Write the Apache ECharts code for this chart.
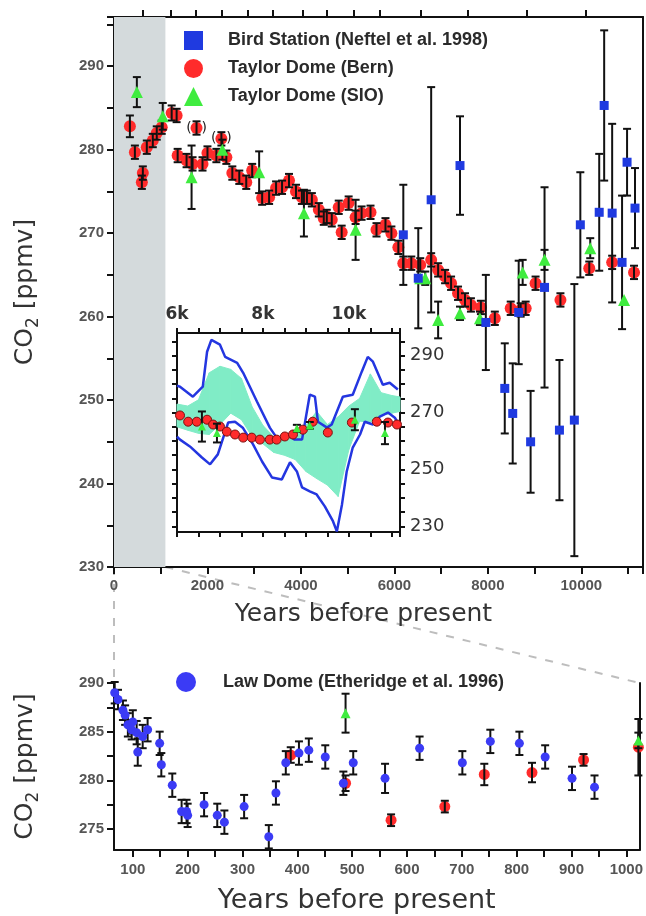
<!DOCTYPE html>
<html><head><meta charset="utf-8">
<script src="https://cdn.jsdelivr.net/npm/echarts@6/dist/echarts.min.js"></script>
<style>html,body{margin:0;padding:0;background:#fff}#c{width:646px;height:916px}</style>
</head><body><div id="c"></div>
<script>
// ---------- DATA ----------
// Main panel: [years BP, CO2 ppmv, error]
const bernMain = [
 [340,282.8,1.3],[447,279.7,0.8],[596,276.1,0.8],[617,277.2,0.8],[702,280.3,0.8],[830,281.1,0.8],
 [915,282.0,0.8],[1021,282.7,0.8],[1234,284.4,0.9],[1340,284.1,0.8],[1362,279.3,0.8],[1553,278.7,0.8],
 [1681,278.3,0.8],[1894,278.3,0.8],[2000,279.6,0.8],[2191,279.3,0.8],[2404,279.1,0.8],[2532,277.2,0.8],
 [2681,276.7,0.8],[2830,276.1,0.8],[2957,277.5,0.8],[3170,274.2,0.8],[3319,274.3,0.8],[3468,275.4,0.8],
 [3596,275.5,0.8],[3745,276.3,0.8],[3894,275.0,0.8],[4021,274.3,0.8],[4128,274.3,0.8],[4234,274.0,0.8],
 [4383,272.8,0.8],[4489,271.8,0.8],[4553,272.0,0.8],[4660,271.6,0.8],[4809,273.1,0.8],[4872,270.1,0.8],
 [5021,273.6,0.8],[5170,271.9,0.8],[5298,272.4,0.8],[5489,272.5,0.8],[5617,270.4,0.8],[5809,271.0,0.8],
 [5936,270.0,0.8],[6085,268.3,0.8],[6191,266.4,0.8],[6362,266.4,0.8],[6553,266.2,0.8],[6787,266.8,0.8],
 [6936,265.6,0.8],[7085,264.8,0.8],[7213,264.0,0.8],[7362,262.8,0.8],[7511,262.0,0.8],[7638,261.4,0.8],
 [7851,261.1,0.8],[8149,259.8,0.8],[8489,261.0,0.8],[8702,260.8,0.8],[8809,261.0,0.8],[9021,264.0,0.8],
 [9553,262.0,0.8],[10170,265.8,0.8],[10660,266.5,0.8],[11128,265.3,0.8]
];
const bernBracket = [[1766,282.6,0.8],[2298,281.3,0.8]];
const sioMain = [
 [489,286.9,1.8],[1043,284.0,1.6],[1660,276.7,3.8],[2319,280.0,1.2],[3106,277.3,2.5],[4064,272.4,2.8],
 [5170,270.4,3.6],[6553,264.6,0],[6660,264.6,0.8],[6936,259.6,2.2],[7404,260.4,0.8],[7830,259.8,0.8],
 [8745,265.3,1.5],[9213,266.8,1.2],[10191,268.2,1.2],[10915,262.0,0]
];
const birdMain = [
 [6191,269.8,6.0],[6511,264.6,6.0],[6787,274.0,13.5],[7404,278.1,5.9],[7957,259.3,5.7],[8362,251.4,5.4],
 [8532,248.4,6.0],[8660,260.5,6.2],[8915,245.0,6.1],[9213,263.5,12.0],[9532,246.4,8.4],[9851,247.6,16.3],
 [9979,271.0,6.3],[10383,272.5,7.0],[10489,285.3,9.0],[10660,272.4,10.7],[10872,266.5,8.0],
 [10979,278.5,4.0],[11149,273.0,4.8]
];
const shadeRange = [0, 1100];
const topTicks = [623,1213,1760,2313,2857,3404,4043,4560,5128,5681,6568,7560,8836,10091];

// Inset panel
const insetBern = [
 [6070,269.0],[6260,266.8],[6460,266.8],[6700,267.5],[6840,265.8],[7000,265.1],[7160,263.3],[7350,262.3],
 [7540,261.2],[7740,261.2],[7930,260.5],[8160,260.5],[8320,260.5],[8510,261.6],[8700,262.3],[8930,264.0],
 [9160,266.8],[9510,263.0],[10070,266.5],[10650,266.8],[10910,266.5],[11120,265.8]
];
const insetSio = [[6580,265.1,5.3],[6930,262.8,3.3],[8790,264.5,1.2],[9090,265.5,1.2],[10140,267.5,3.7],[10840,262.8,3.9]];
const envUpper = [
 [6000,279.5],[6070,279.1],[6370,275.6],[6600,279.1],[6700,291.4],[6800,295.6],[7000,293.9],[7120,289.6],
 [7400,287.5],[7540,284.0],[7860,273.9],[8160,264.7],[8350,260.5],[8560,262.3],[8740,260.5],[8910,260.5],
 [9090,276.3],[9210,275.6],[9280,266.8],[9490,264.7],[9600,265.8],[9860,275.6],[10090,276.3],[10300,284.4],
 [10440,289.6],[10560,287.9],[10790,279.8],[10950,280.5],[11140,278.1]
];
const envLower = [
 [6000,261.5],[6070,260.5],[6300,258.1],[6580,254.2],[6770,251.8],[6950,255.3],[7190,266.5],[7350,266.8],
 [7530,264.7],[7770,258.8],[7980,252.8],[8210,247.2],[8440,246.5],[8630,252.5],[8790,249.3],[8910,243.7],
 [9090,242.3],[9250,241.2],[9440,237.0],[9630,231.8],[9720,228.2],[9840,237.7],[9950,249.3],[10090,257.7],
 [10260,262.3],[10370,266.8],[10560,265.8],[10720,268.6],[10910,270.0],[11070,268.2],[11140,266.5]
];
const bandX    = [6000,6250,6500,6750,7000,7250,7500,7750,8000,8250,8500,8750,9000,9250,9500,9750,10000,10250,10500,10750,11000,11190];
const bandHigh = [273,272.3,274.5,284,286.3,285.2,282,272,265.5,261.5,260.8,262.3,265.5,270.4,265.8,268.5,272.3,275,283.6,277,276,275.5];
const bandLow  = [265,263.8,262.7,262.3,265.8,269.8,267.5,261.5,259,256,255,253.5,249.3,246.8,244.5,240.5,257,267,266.7,269,269.8,270.4];
const insetXLabels = [6000,8000,10000];
const insetYTicks = [230,235,240,245,250,255,260,265,270,275,280,285,290,295];
const insetYLabels = [230,250,270,290];

// Lower panel
const lawDome = [
 [67,289.0,1.1],[73,288.3,1.0],[82,287.2,1.0],[86,286.7,1.0],[91,285.7,1.2],[98,285.2,1.0],[100,286.0,1.2],
 [107,284.9,1.2],[109,282.9,1.4],[118,284.5,1.2],[127,285.2,1.2],[149,283.8,1.2],[152,281.6,1.2],
 [172,279.5,1.2],[189,276.8,1.2],[198,276.8,1.2],[200,276.4,1.2],[230,277.5,1.2],[254,276.4,1.2],
 [267,275.7,1.2],[303,277.3,1.2],[348,274.2,1.2],[361,278.7,1.2],[379,281.8,1.2],[403,282.8,1.2],
 [421,283.1,1.2],[451,282.4,1.2],[484,279.7,1.2],[502,281.8,1.2],[560,280.2,1.5],[623,283.3,1.2],
 [701,281.8,1.2],[752,284.0,1.2],[805,283.8,1.2],[852,282.4,1.2],[901,280.2,1.2],[942,279.3,1.2]
];
const bernLow = [[388,282.6,0.8],[488,279.7,0.8],[571,275.9,0.6],[669,277.3,0.6],[741,280.6,1.1],[828,280.8,1.0],[922,282.1,0.6],[1022,283.4,2.9]];
const sioLow = [[488,286.9,2.0],[1022,284.1,0.8]];
const lowXTicks = [100,150,200,250,300,350,400,450,500,550,600,650,700,750,800,850,900,950,1000];
const lowXLabels = [100,200,300,400,500,600,700,800,900,1000];
const lowYTicks = [275,277.5,280,282.5,285,287.5,290];
const lowYLabels = [275,280,285,290];

// ---------- STYLE ----------
const AX = '#111';
const RED = '#ff2b2b', GREEN = '#3fec3f', BLUE = '#1f3ae0', LAW = '#3b3bf5', MINT = '#80ecc6';
const tickFont = {fontFamily:'Liberation Sans', fontWeight:'bold', fontSize:15, color:'#555'};
const legendFont = {fontFamily:'Liberation Sans', fontWeight:'bold', fontSize:18, color:'#2a2a2a'};
const titleStyle = (fs) => ({fontFamily:'DejaVu Sans', fontSize:fs, color:'#333'});
const coName = '{a|CO}{b|2}{a| [ppmv]}';
const coRich = {rich:{
  a:{fontFamily:'DejaVu Sans', fontSize:25, color:'#333', lineHeight:34, verticalAlign:'middle'},
  b:{fontFamily:'DejaVu Sans', fontSize:17, color:'#333', lineHeight:17, verticalAlign:'bottom'}
}};

function axisBase(extra){
  return Object.assign({
    type:'value', scale:true,
    axisLine:{show:true, onZero:false, lineStyle:{color:AX, width:2}},
    axisTick:{show:false}, axisLabel:{show:false}, splitLine:{show:false}
  }, extra);
}
function ticks(len, extra){ return Object.assign({show:true, inside:false, length:len, lineStyle:{color:AX, width:2}}, extra||{}); }

function errRender(params, api){
  const e = api.value(2);
  if (!e) return null;
  const x = api.value(0), y = api.value(1);
  const t = api.coord([x, y + e]), b = api.coord([x, y - e]);
  const w = 4, st = {stroke:'#111', lineWidth:2};
  return {type:'group', children:[
    {type:'line', shape:{x1:t[0], y1:t[1], x2:b[0], y2:b[1]}, style:st},
    {type:'line', shape:{x1:t[0]-w, y1:t[1], x2:t[0]+w, y2:t[1]}, style:st},
    {type:'line', shape:{x1:b[0]-w, y1:b[1], x2:b[0]+w, y2:b[1]}, style:st}
  ]};
}
function errSeries(data, xi, yi, z){
  return {type:'custom', name:'err', xAxisIndex:xi, yAxisIndex:yi, data:data, renderItem:errRender,
          encode:{x:0, y:1}, z:z, silent:true};
}
// band segment i -> i+1 drawn as a filled quadrilateral between low and high edges
function bandRender(params, api){
  const i = params.dataIndex;
  if (i >= bandX.length - 1) return null;
  const a1 = api.coord([bandX[i], bandLow[i]]), a2 = api.coord([bandX[i+1], bandLow[i+1]]);
  const b2 = api.coord([bandX[i+1], bandHigh[i+1]]), b1 = api.coord([bandX[i], bandHigh[i]]);
  return {type:'polygon', shape:{points:[a1, a2, b2, b1]}, style:{fill:MINT, stroke:MINT, lineWidth:1}};
}

const chart = echarts.init(document.getElementById('c'), null, {renderer:'canvas'});
const option = {
  backgroundColor:'#fff',
  animation:false,
  grid:[
    {left:114, top:17, width:531, height:550},
    {left:177, top:333, width:223, height:199},
    {left:114, top:683, width:531, height:167}
  ],
  legend:[
    {data:['Bird Station (Neftel et al. 1998)','Taylor Dome (Bern)','Taylor Dome (SIO)'],
     orient:'vertical', left:179, top:26, itemWidth:19, itemHeight:19, itemGap:9, selectedMode:false,
     textStyle:Object.assign({padding:[0,0,0,20]}, legendFont)},
    {data:['Law Dome (Etheridge et al. 1996)'], left:171, top:667, itemWidth:20, itemHeight:20, selectedMode:false,
     icon:'circle', textStyle:Object.assign({padding:[0,0,0,22]}, legendFont)}
  ],
  xAxis:[
    axisBase({gridIndex:0, min:0, max:11320, interval:1000, position:'bottom',
      axisTick:ticks(7), axisLabel:Object.assign({show:true, margin:11,
        formatter:v => (v % 2000 === 0 ? String(v) : '')}, tickFont),
      name:'Years before present', nameLocation:'middle', nameGap:35,
      nameTextStyle:Object.assign(titleStyle(25), {padding:[0,30,0,0]})}),
    axisBase({gridIndex:0, min:0, max:11320, position:'top', axisTick:ticks(7, {customValues:topTicks})}),
    axisBase({gridIndex:1, min:6000, max:11190, interval:500, position:'bottom', axisTick:ticks(5)}),
    axisBase({gridIndex:1, min:6000, max:11190, interval:500, position:'top', axisTick:ticks(5),
      axisLabel:{show:true, margin:10, customValues:insetXLabels, formatter:v => (v/1000)+'k',
        fontFamily:'DejaVu Sans', fontWeight:'bold', fontSize:17, color:'#333'}}),
    axisBase({gridIndex:2, min:65.7, max:1024, position:'bottom',
      axisTick:ticks(7, {customValues:lowXTicks}),
      axisLabel:Object.assign({show:true, margin:12, customValues:lowXLabels, formatter:v => String(v)}, tickFont),
      name:'Years before present', nameLocation:'middle', nameGap:37,
      nameTextStyle:Object.assign(titleStyle(27), {padding:[0,40,0,0]})})
  ],
  yAxis:[
    axisBase({gridIndex:0, min:230, max:295.9, interval:5, position:'left', axisTick:ticks(7),
      axisLabel:Object.assign({show:true, margin:10, formatter:v => (v % 10 === 0 ? String(v) : '')}, tickFont),
      name:coName, nameLocation:'middle', nameRotate:90, nameGap:72, nameTextStyle:coRich}),
    axisBase({gridIndex:0, min:230, max:295.9, position:'right'}),
    axisBase({gridIndex:1, min:228, max:298, position:'left', axisTick:ticks(5, {customValues:insetYTicks})}),
    axisBase({gridIndex:1, min:228, max:298, position:'right', axisTick:ticks(5, {customValues:insetYTicks}),
      axisLabel:{show:true, margin:10, customValues:insetYLabels, formatter:v => String(v),
        fontFamily:'DejaVu Sans', fontSize:18, color:'#333'}}),
    axisBase({gridIndex:2, min:272.84, max:290, position:'left',
      axisTick:ticks(7, {customValues:lowYTicks}),
      axisLabel:Object.assign({show:true, margin:10, customValues:lowYLabels, formatter:v => String(v)}, tickFont),
      name:coName, nameLocation:'middle', nameRotate:90, nameGap:72, nameTextStyle:coRich}),
    axisBase({gridIndex:2, min:272.84, max:290, position:'right'})
  ],
  series:[
    // shaded region
    {type:'line', name:'shade', xAxisIndex:0, yAxisIndex:0, data:[], silent:true, z:0,
     markArea:{silent:true, itemStyle:{color:'#d4dadc'}, data:[[{xAxis:shadeRange[0]},{xAxis:shadeRange[1]}]]}},
    // main panel
    {type:'scatter', name:'Taylor Dome (Bern)', xAxisIndex:0, yAxisIndex:0, data:bernMain,
     symbol:'circle', symbolSize:12, itemStyle:{color:RED, opacity:1}, z:2},
    {type:'scatter', name:'Taylor Dome (Bern)', xAxisIndex:0, yAxisIndex:0, data:bernBracket,
     symbol:'circle', symbolSize:12, itemStyle:{color:RED, opacity:1}, z:2,
     label:{show:true, position:'inside', formatter:'(\u2002\u2009)', fontFamily:'DejaVu Sans', fontSize:14, color:'#222'}},
    errSeries(bernMain, 0, 0, 3),
    errSeries(bernBracket, 0, 0, 3),
    errSeries(sioMain, 0, 0, 3),
    errSeries(birdMain, 0, 0, 3),
    {type:'scatter', name:'Taylor Dome (SIO)', xAxisIndex:0, yAxisIndex:0, data:sioMain,
     symbol:'triangle', symbolSize:12, itemStyle:{color:GREEN, opacity:1}, z:4},
    {type:'scatter', name:'Bird Station (Neftel et al. 1998)', xAxisIndex:0, yAxisIndex:0, data:birdMain,
     symbol:'rect', symbolSize:9, itemStyle:{color:BLUE, opacity:1}, z:4},
    // inset
    {type:'custom', name:'band', xAxisIndex:2, yAxisIndex:2, silent:true, z:1,
     data:bandX.map((x,i) => [x, bandLow[i], bandHigh[i]]), encode:{x:0, y:[1,2]}, renderItem:bandRender},
    {type:'line', name:'envUpper', xAxisIndex:2, yAxisIndex:2, symbol:'none', data:envUpper,
     lineStyle:{color:'#2436e0', width:2.5}, z:2},
    {type:'line', name:'envLower', xAxisIndex:2, yAxisIndex:2, symbol:'none', data:envLower,
     lineStyle:{color:'#2436e0', width:2.5}, z:2},
    {type:'scatter', name:'insetBern', xAxisIndex:2, yAxisIndex:2, data:insetBern,
     symbol:'circle', symbolSize:9, itemStyle:{color:RED, opacity:1, borderColor:'#7a1010', borderWidth:1}, z:3},
    errSeries(insetSio, 2, 2, 4),
    {type:'scatter', name:'insetSio', xAxisIndex:2, yAxisIndex:2, data:insetSio,
     symbol:'triangle', symbolSize:8, itemStyle:{color:GREEN, opacity:1}, z:5},
    // lower panel
    errSeries(lawDome, 4, 4, 3),
    errSeries(bernLow, 4, 4, 3),
    errSeries(sioLow, 4, 4, 3),
    {type:'scatter', name:'Law Dome (Etheridge et al. 1996)', xAxisIndex:4, yAxisIndex:4, data:lawDome,
     symbol:'circle', symbolSize:9, itemStyle:{color:LAW, opacity:1}, z:4},
    {type:'scatter', name:'bernLow', xAxisIndex:4, yAxisIndex:4, data:bernLow,
     symbol:'circle', symbolSize:11, itemStyle:{color:RED, opacity:1}, z:2},
    {type:'scatter', name:'sioLow', xAxisIndex:4, yAxisIndex:4, data:sioLow,
     symbol:'triangle', symbolSize:10, itemStyle:{color:GREEN, opacity:1}, z:4}
  ]
};
chart.setOption(option);

// dashed "zoom" connector lines between the main panel and the lower panel
const mainSeries = 1, lowSeries = 18;
const pA = chart.convertToPixel({seriesIndex:mainSeries}, [shadeRange[0], 230]);
const pB = chart.convertToPixel({seriesIndex:mainSeries}, [shadeRange[1], 230]);
const qA = chart.convertToPixel({seriesIndex:lowSeries}, [65.7, 290]);
const qB = chart.convertToPixel({seriesIndex:lowSeries}, [1024, 290]);
const dash = {stroke:'#bdbdbd', lineWidth:2, lineDash:[8,9]};
chart.setOption({graphic:[
  {type:'line', z:-1, shape:{x1:pA[0], y1:pA[1], x2:qA[0], y2:qA[1]}, style:dash, silent:true},
  {type:'line', z:-1, shape:{x1:pB[0], y1:pB[1], x2:qB[0], y2:qB[1]}, style:dash, silent:true}
]});
</script></body></html>
